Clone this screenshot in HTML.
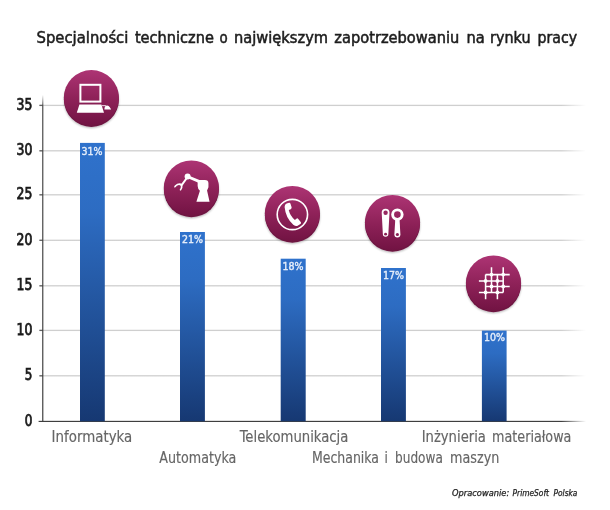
<!DOCTYPE html>
<html lang="pl">
<head>
<meta charset="utf-8">
<title>Specjalności techniczne</title>
<style>
html,body{margin:0;padding:0;background:#fff;}
body{width:610px;height:510px;overflow:hidden;}
svg{display:block;}
text{font-family:"DejaVu Sans Condensed","DejaVu Sans","Liberation Sans",sans-serif;}
.ttl{font-size:16.2px;fill:#1c1c1c;stroke:#1c1c1c;stroke-width:0.5px;}
.ax{font-size:15.1px;fill:#1a1a1a;stroke:#1a1a1a;stroke-width:0.75px;}
.cat{font-size:15.4px;fill:#666;stroke:#666;stroke-width:0.15px;}
.val{font-size:10.5px;fill:#e4edfa;stroke:#e4edfa;stroke-width:0.4px;}
.src{font-size:8.8px;fill:#222;font-style:italic;stroke:#222;stroke-width:0.25px;}
</style>
</head>
<body>
<svg width="610" height="510" viewBox="0 0 610 510">
<defs>
<linearGradient id="fade" x1="38" x2="586" y1="0" y2="0" gradientUnits="userSpaceOnUse">
<stop offset="0" stop-color="#cfcfcf"/><stop offset="0.955" stop-color="#cfcfcf"/><stop offset="1" stop-color="#cfcfcf" stop-opacity="0"/>
</linearGradient>
<linearGradient id="base" x1="38" x2="586" y1="0" y2="0" gradientUnits="userSpaceOnUse">
<stop offset="0" stop-color="#2a2a2a"/><stop offset="0.955" stop-color="#2a2a2a"/><stop offset="1" stop-color="#2a2a2a" stop-opacity="0"/>
</linearGradient>
<linearGradient id="vax" x1="0" x2="0" y1="95" y2="421" gradientUnits="userSpaceOnUse">
<stop offset="0" stop-color="#444" stop-opacity="0"/><stop offset="0.035" stop-color="#444"/><stop offset="1" stop-color="#383838"/>
</linearGradient>
<linearGradient id="bar" x1="0" x2="0" y1="0" y2="1">
<stop offset="0" stop-color="#2f72cc"/><stop offset="0.25" stop-color="#2d6cc2"/><stop offset="1" stop-color="#163872"/>
</linearGradient>
<linearGradient id="circ" x1="0" x2="0" y1="0" y2="1">
<stop offset="0" stop-color="#ad3474"/><stop offset="0.5" stop-color="#8f2259"/><stop offset="1" stop-color="#721343"/>
</linearGradient>
<filter id="sh" x="-20%" y="-20%" width="140%" height="150%">
<feGaussianBlur in="SourceAlpha" stdDeviation="0.9"/><feOffset dy="0.6"/><feComponentTransfer><feFuncA type="linear" slope="0.3"/></feComponentTransfer>
<feMerge><feMergeNode/><feMergeNode in="SourceGraphic"/></feMerge>
</filter>
</defs>
<rect width="610" height="510" fill="#fff"/>
<text class="ttl" y="43.2"><tspan x="36.54" textLength="91.84" lengthAdjust="spacingAndGlyphs">Specjalności</tspan> <tspan x="134.88" textLength="79.08" lengthAdjust="spacingAndGlyphs">techniczne</tspan> <tspan x="219.42" textLength="8.20" lengthAdjust="spacingAndGlyphs">o</tspan> <tspan x="234.00" textLength="94.04" lengthAdjust="spacingAndGlyphs">największym</tspan> <tspan x="334.34" textLength="125.00" lengthAdjust="spacingAndGlyphs">zapotrzebowaniu</tspan> <tspan x="466.50" textLength="18.30" lengthAdjust="spacingAndGlyphs">na</tspan> <tspan x="490.08" textLength="40.42" lengthAdjust="spacingAndGlyphs">rynku</tspan> <tspan x="537.50" textLength="39.54" lengthAdjust="spacingAndGlyphs">pracy</tspan></text>

<!-- grid -->
<g fill="url(#fade)">
<rect x="39.4" y="104.75" width="546.6" height="1.3"/>
<rect x="39.4" y="150.15" width="546.6" height="1.3"/>
<rect x="39.4" y="194.15" width="546.6" height="1.3"/>
<rect x="39.4" y="239.65" width="546.6" height="1.3"/>
<rect x="39.4" y="285.15" width="546.6" height="1.3"/>
<rect x="39.4" y="329.75" width="546.6" height="1.3"/>
<rect x="39.4" y="375.15" width="546.6" height="1.3"/>
</g>
<g fill="#484848" opacity="0.8">
<rect x="39.4" y="104.75" width="3.4" height="1.3"/>
<rect x="39.4" y="150.15" width="3.4" height="1.3"/>
<rect x="39.4" y="194.15" width="3.4" height="1.3"/>
<rect x="39.4" y="239.65" width="3.4" height="1.3"/>
<rect x="39.4" y="285.15" width="3.4" height="1.3"/>
<rect x="39.4" y="329.75" width="3.4" height="1.3"/>
<rect x="39.4" y="375.15" width="3.4" height="1.3"/>
</g>
<rect x="38.6" y="420.85" width="547.4" height="1.05" fill="url(#base)"/>
<rect x="42.2" y="95" width="1.15" height="326.5" fill="url(#vax)"/>

<!-- y labels -->
<g class="ax" text-anchor="end">
<text x="32.4" y="109.6" textLength="15.8" lengthAdjust="spacingAndGlyphs">35</text>
<text x="32.4" y="155.0" textLength="15.8" lengthAdjust="spacingAndGlyphs">30</text>
<text x="32.4" y="199.0" textLength="15.8" lengthAdjust="spacingAndGlyphs">25</text>
<text x="32.4" y="244.5" textLength="15.8" lengthAdjust="spacingAndGlyphs">20</text>
<text x="32.4" y="290.0" textLength="15.8" lengthAdjust="spacingAndGlyphs">15</text>
<text x="32.4" y="334.6" textLength="15.8" lengthAdjust="spacingAndGlyphs">10</text>
<text x="32.4" y="380.0" textLength="7.6" lengthAdjust="spacingAndGlyphs">5</text>
<text x="32.4" y="425.6" textLength="7.6" lengthAdjust="spacingAndGlyphs">0</text>
</g>

<!-- bars -->
<g fill="url(#bar)">
<rect x="80.0" y="142.9" width="24.8" height="278.4"/>
<rect x="180.0" y="232.0" width="24.9" height="189.3"/>
<rect x="280.7" y="258.7" width="25.0" height="162.6"/>
<rect x="381.0" y="268.0" width="24.9" height="153.3"/>
<rect x="481.9" y="330.6" width="24.7" height="90.7"/>
</g>
<g class="val" text-anchor="middle">
<text x="92.0" y="154.6" textLength="21" lengthAdjust="spacingAndGlyphs">31%</text>
<text x="192.4" y="243.0" textLength="21" lengthAdjust="spacingAndGlyphs">21%</text>
<text x="292.9" y="269.7" textLength="21" lengthAdjust="spacingAndGlyphs">18%</text>
<text x="393.45" y="278.6" textLength="21" lengthAdjust="spacingAndGlyphs">17%</text>
<text x="494.4" y="340.6" textLength="21" lengthAdjust="spacingAndGlyphs">10%</text>
</g>

<!-- circles -->
<g filter="url(#sh)" fill="#6d1341">
<circle cx="91.4" cy="99.4" r="27.5"/>
<circle cx="191.4" cy="189.7" r="27.5"/>
<circle cx="292.4" cy="215.2" r="27.5"/>
<circle cx="392.5" cy="224.2" r="27.5"/>
<circle cx="493.5" cy="284.7" r="27.5"/>
</g>
<g fill="url(#circ)">
<circle cx="91.4" cy="97.7" r="27.6"/>
<circle cx="191.4" cy="188" r="27.6"/>
<circle cx="292.4" cy="213.5" r="27.6"/>
<circle cx="392.5" cy="222.5" r="27.6"/>
<circle cx="493.5" cy="283" r="27.6"/>
</g>

<!-- icon 1: laptop -->
<g transform="translate(91.4,97.7)">
<rect x="-11" y="-12.9" width="20" height="16.8" fill="none" stroke="#fff" stroke-width="2"/>
<path d="M-12,6.8 L10,6.8 L12.6,15 L-14.6,15 Z" fill="#fff"/>
<path d="M10.5,8 L14.5,8" stroke="#fff" stroke-width="0.9" fill="none"/>
<path d="M13,11.9 Q13,7.8 15.8,7.8 Q17.4,7.8 18.4,9.6 L19.8,11.9 Z" fill="#fff"/>
</g>

<!-- icon 2: robot arm -->
<g transform="translate(160,156) scale(0.12549)" fill="#fff" stroke="none">
<path d="M290,365 L395,365 L375,275 L386,250 L386,218 Q386,192 358,192 L312,192 Q300,192 300,206 L300,240 Q300,262 318,276 Z"/>
<path d="M222,165 L325,208" stroke="#fff" stroke-width="22" stroke-linecap="round" fill="none"/>
<circle cx="220" cy="163" r="24"/>
<path d="M213,176 L174,230" stroke="#fff" stroke-width="15" stroke-linecap="round" fill="none"/>
<path d="M180,226 Q150,204 118,236 Q112,243 112,252 L124,250 Q132,234 150,232 Q160,232 166,240 Q168,256 156,270 L166,276 Q184,254 180,226 Z"/>
</g>

<!-- icon 3: phone -->
<g transform="translate(260,182) scale(0.12549)">
<circle cx="258" cy="259" r="121" fill="none" stroke="#fff" stroke-width="13"/>
<path d="M212,172 L232,165 Q240,164 243,174 L252,202 Q254,212 245,217 L229,224 Q240,272 278,303 L290,292 Q298,286 305,294 L326,320 Q330,328 322,334 L300,348 Q285,354 265,340 Q205,290 196,200 Q196,178 212,172 Z" fill="#fff"/>
</g>

<!-- icon 4: wrenches -->
<g transform="translate(361,191) scale(0.12549)">
<path d="M165,172 A31,31 0 0 1 227,172 L218,343 A22,22 0 0 1 174,343 Z" fill="#fff"/>
<circle cx="196" cy="173" r="17.5" fill="#982861"/>
<circle cx="196" cy="344" r="11.5" fill="#8a1f55"/>
<path d="M273,225 L307,225 L314,346 A24,24 0 0 1 266,346 Z" fill="#fff"/>
<circle cx="290" cy="188" r="38" fill="none" stroke="#fff" stroke-width="23"/>
<circle cx="290" cy="347" r="12.5" fill="#8a1f55"/>
</g>

<!-- icon 5: grid -->
<g transform="translate(493.5,283)" stroke="#fff" stroke-width="1.55" fill="#fff">
<path d="M-7.9,-8.4 V16.3 M-2,-15.7 V9.4 M3.9,-8.4 V16.3 M9.7,-15.7 V9.4" fill="none"/>
<path d="M-7.9,-8.4 H16.2 M-14.6,-2.1 H9.7 M-7.9,3.4 H16.2 M-14.6,9.4 H9.7" fill="none"/>
<g stroke="none">
<circle cx="-2" cy="-8.4" r="1.9"/><circle cx="9.7" cy="-8.4" r="1.9"/>
<circle cx="-7.9" cy="-2.1" r="1.9"/><circle cx="3.9" cy="-2.1" r="1.9"/>
<circle cx="-2" cy="3.4" r="1.9"/><circle cx="9.7" cy="3.4" r="1.9"/>
<circle cx="-7.9" cy="9.4" r="1.9"/><circle cx="3.9" cy="9.4" r="1.9"/>
</g>
</g>

<!-- category labels -->
<g class="cat">
<text y="442.0"><tspan x="51.62" textLength="80.68" lengthAdjust="spacingAndGlyphs">Informatyka</tspan></text>
<text y="463.0"><tspan x="159.26" textLength="77.12" lengthAdjust="spacingAndGlyphs">Automatyka</tspan></text>
<text y="442.0"><tspan x="239.76" textLength="108.66" lengthAdjust="spacingAndGlyphs">Telekomunikacja</tspan></text>
<text y="463.0"><tspan x="312.00" textLength="67.00" lengthAdjust="spacingAndGlyphs">Mechanika</tspan> <tspan x="384.62" textLength="3.34" lengthAdjust="spacingAndGlyphs">i</tspan> <tspan x="395.00" textLength="47.84" lengthAdjust="spacingAndGlyphs">budowa</tspan> <tspan x="450.00" textLength="49.34" lengthAdjust="spacingAndGlyphs">maszyn</tspan></text>
<text y="442.0"><tspan x="421.66" textLength="64.26" lengthAdjust="spacingAndGlyphs">Inżynieria</tspan> <tspan x="492.08" textLength="79.30" lengthAdjust="spacingAndGlyphs">materiałowa</tspan></text>
</g>
<text class="src" y="496.4"><tspan x="452.12" textLength="57.06" lengthAdjust="spacingAndGlyphs">Opracowanie:</tspan> <tspan x="512.58" textLength="36.38" lengthAdjust="spacingAndGlyphs">PrimeSoft</tspan> <tspan x="553.62" textLength="23.76" lengthAdjust="spacingAndGlyphs">Polska</tspan></text>
</svg>
</body>
</html>
